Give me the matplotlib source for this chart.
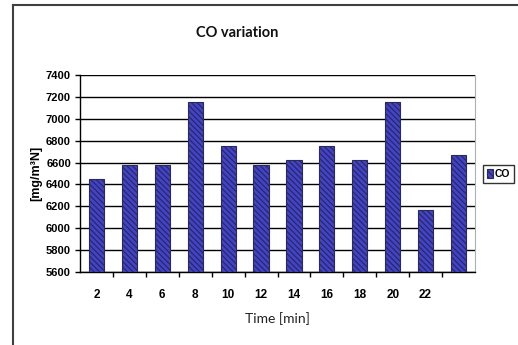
import matplotlib
matplotlib.use("Agg")
import matplotlib.pyplot as plt
from matplotlib.lines import Line2D
import numpy as np

# CO concentration sampled every two minutes
time_labels = ["2", "4", "6", "8", "10", "12", "14", "16", "18", "20", "22", ""]
co_values = [6450, 6580, 6580, 7150, 6750, 6580, 6620, 6750, 6620, 7150, 6170, 6670]
y_ticks = [5600, 5800, 6000, 6200, 6400, 6600, 6800, 7000, 7200, 7400]

W, H = 518, 345
fig = plt.figure(figsize=(W / 100, H / 100), dpi=100)
fig.patch.set_facecolor("white")

# plot area in pixel terms
left, right, top, bottom = 80, 475, 75, 272
ax = fig.add_axes([left / W, 1 - bottom / H, (right - left) / W, (bottom - top) / H])

plt.rcParams["hatch.color"] = "#9090f4"
plt.rcParams["hatch.linewidth"] = 0.9

x = np.arange(len(co_values))
bars = ax.bar(x, [v - y_ticks[0] for v in co_values], bottom=y_ticks[0], width=0.46,
              color="#4242d0", edgecolor="#2a2a55", linewidth=0.8, hatch="\\\\\\\\\\\\",
              zorder=3, label="CO")

ax.set_xlim(-0.5, len(co_values) - 0.5)
ax.set_ylim(y_ticks[0], y_ticks[-1])
ax.set_yticks(y_ticks)
ax.set_yticklabels([str(t) for t in y_ticks], fontsize=8, fontweight="bold",
                   family="Liberation Sans")

# category labels at centres, tick marks on category boundaries
ax.set_xticks(np.arange(0.5, len(co_values) - 1, 1.0))
ax.set_xticklabels([])
ax.set_xticks(x, minor=True)
ax.set_xticklabels(time_labels, minor=True, fontsize=8.5, fontweight="bold",
                   family="Liberation Sans")
ax.tick_params(axis="x", which="major", direction="out", length=3.5, width=1, color="black")
ax.tick_params(axis="x", which="minor", length=0, pad=12)
ax.tick_params(axis="y", direction="out", length=3.5, width=1, color="black", pad=3)

ax.yaxis.grid(True, color="black", linewidth=1.0, zorder=1)
ax.set_axisbelow(True)
ax.spines["top"].set_visible(False)
ax.spines["right"].set_color("#b0b0b0")
ax.spines["left"].set_color("black")
ax.spines["bottom"].set_color("black")
ax.spines["left"].set_linewidth(1.0)
ax.spines["bottom"].set_linewidth(1.0)

ax.set_ylabel("[mg/m³N]", fontsize=9, fontweight="bold", family="Liberation Sans", labelpad=3)
ax.set_xlabel("Time [min]", fontsize=10, family="Lato", labelpad=8, color="#222222")

fig.text(237 / W, 1 - 33 / H, "CO variation", ha="center", va="center",
         fontsize=10.5, fontweight="bold", family="Lato", color="#111111")

leg = fig.legend(handles=[bars], labels=["CO"], loc="center left",
                 bbox_to_anchor=(483 / W, 1 - 174 / H), frameon=True, fancybox=False,
                 handlelength=0.65, handleheight=0.9, handletextpad=0.15, borderpad=0.35,
                 borderaxespad=0.0,
                 prop={"family": "Liberation Sans", "weight": "bold", "size": 7.5})
leg.get_frame().set_edgecolor("black")
leg.get_frame().set_linewidth(1.0)

# chart area border (top and left edges)
fig.add_artist(Line2D([13 / W, 1.0], [1 - 4.5 / H, 1 - 4.5 / H], color="#404040", linewidth=1.5))
fig.add_artist(Line2D([13 / W, 13 / W], [1 - 4.5 / H, 0.0], color="#404040", linewidth=1.5))

fig.savefig("out.png", dpi=100)
